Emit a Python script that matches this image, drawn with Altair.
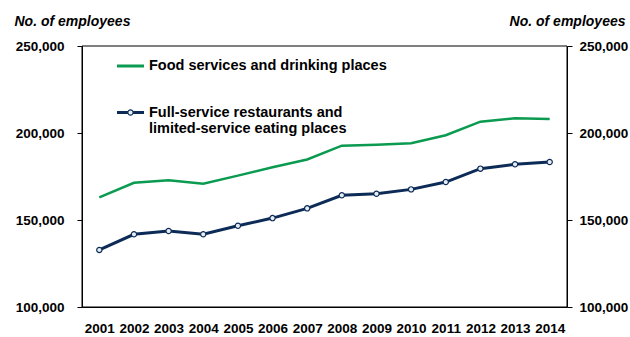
import altair as alt
import pandas as pd

years = list(range(2001, 2015))
food_services = [163000, 171400, 172800, 170900, 175500, 180300, 184800, 192700,
                 193200, 194100, 198700, 206500, 208500, 208000]
full_limited = [132800, 141800, 143700, 141800, 146700, 151100, 156700, 164200,
                165100, 167600, 171800, 179500, 182000, 183300]
series_names = ["Food services and drinking places",
                "Full-service restaurants and\nlimited-service eating places"]
y_ticks = [100000, 150000, 200000, 250000]
axis_title = "No. of employees"

GREEN = "#0a9a50"
NAVY = "#0c2b57"
FONT = "Liberation Sans"
FS = 13.5

df = pd.DataFrame({
    "year": years * 2,
    "value": food_services + full_limited,
    "series": [series_names[0]] * len(years) + [series_names[1]] * len(years),
})

xscale = alt.Scale(domain=[2000.5, 2014.5], nice=False, zero=False)
yscale = alt.Scale(domain=[100000, 250000], nice=False, zero=False)

bottom_axis = alt.Axis(values=years, format="d", title=None, ticks=False, orient="bottom",
                       domain=True, domainColor="black", grid=False,
                       labelFont=FONT, labelFontSize=FS, labelFontWeight="bold",
                       labelColor="black", labelPadding=14, labelFlush=False,
                       labelOverlap=False)

left_axis = alt.Axis(values=y_ticks, format=",.0f", orient="left", grid=False,
                     tickSize=5, tickColor="black", domainColor="black",
                     labelFont=FONT, labelFontSize=FS, labelFontWeight="bold",
                     labelColor="black", labelPadding=13,
                     title=axis_title, titleAngle=0, titleAlign="left",
                     titleBaseline="alphabetic", titleX=-68, titleY=-21,
                     titleFont=FONT, titleFontSize=14, titleFontStyle="italic",
                     titleFontWeight="bold", titleColor="black")
right_axis = alt.Axis(values=y_ticks, format=",.0f", orient="right", grid=False,
                      tickSize=5, tickColor="black", domainColor="black",
                      labelFont=FONT, labelFontSize=FS, labelFontWeight="bold",
                      labelColor="black", labelPadding=7,
                      title=axis_title, titleAngle=0, titleAlign="right",
                      titleBaseline="alphabetic", titleX=58, titleY=-21,
                      titleFont=FONT, titleFontSize=14, titleFontStyle="italic",
                      titleFontWeight="bold", titleColor="black")

X = alt.X("year:Q", scale=xscale, axis=bottom_axis)

frame_df = pd.DataFrame({"lo": [y_ticks[0]], "hi": [y_ticks[-1]]})
frame = alt.Chart(frame_df).mark_rect(
    fill="white", fillOpacity=0, stroke="black", strokeWidth=1
).encode(x=alt.value(0), x2=alt.value(485),
         y=alt.Y("hi:Q", scale=yscale, axis=None), y2="lo:Q")

green_line = alt.Chart(df[df.series == series_names[0]]).mark_line(
    color=GREEN, strokeWidth=2.5
).encode(x=X, y=alt.Y("value:Q", scale=yscale, axis=left_axis))

navy_line = alt.Chart(df[df.series == series_names[1]]).mark_line(
    color=NAVY, strokeWidth=3
).encode(x=X, y=alt.Y("value:Q", scale=yscale, axis=right_axis))

navy_pts = alt.Chart(df[df.series == series_names[1]]).mark_point(
    shape="circle", filled=True, fill="#e6edf5", stroke=NAVY, strokeWidth=1.2,
    size=28, opacity=1
).encode(x=X, y=alt.Y("value:Q", scale=yscale, axis=None))

# custom legend
leg = pd.DataFrame({"name": series_names})
leg_green_rule = alt.Chart(leg.iloc[[0]]).mark_rule(color=GREEN, strokeWidth=3).encode(
    x=alt.value(35), x2=alt.value(62), y=alt.value(20))
leg_navy_rule = alt.Chart(leg.iloc[[1]]).mark_rule(color=NAVY, strokeWidth=3).encode(
    x=alt.value(35), x2=alt.value(62), y=alt.value(66.5))
leg_navy_pt = alt.Chart(leg.iloc[[1]]).mark_point(
    shape="circle", filled=True, fill="#e6edf5", stroke=NAVY, strokeWidth=1.2,
    size=28, opacity=1).encode(x=alt.value(48.5), y=alt.value(66.5))
leg_text1 = alt.Chart(leg.iloc[[0]]).mark_text(
    align="left", baseline="middle", font=FONT, fontSize=14.5, fontWeight="bold",
    color="black").encode(x=alt.value(67), y=alt.value(20), text="name:N")
leg_text2 = alt.Chart(leg.iloc[[1]]).mark_text(
    align="left", baseline="middle", font=FONT, fontSize=14.5, fontWeight="bold",
    color="black", lineBreak="\n", lineHeight=16).encode(
    x=alt.value(67), y=alt.value(67), text="name:N")

chart = alt.layer(
    green_line, navy_line, navy_pts, frame,
    leg_green_rule, leg_navy_rule, leg_navy_pt, leg_text1, leg_text2
).resolve_axis(y="independent").properties(
    width=485, height=261,
    autosize=alt.AutoSizeParams(type="none"),
    padding={"left": 82, "top": 46, "right": 63, "bottom": 30},
    background="white",
).configure_view(stroke=None)

chart.save("out.html", embed_options={"renderer": "svg", "actions": False})
